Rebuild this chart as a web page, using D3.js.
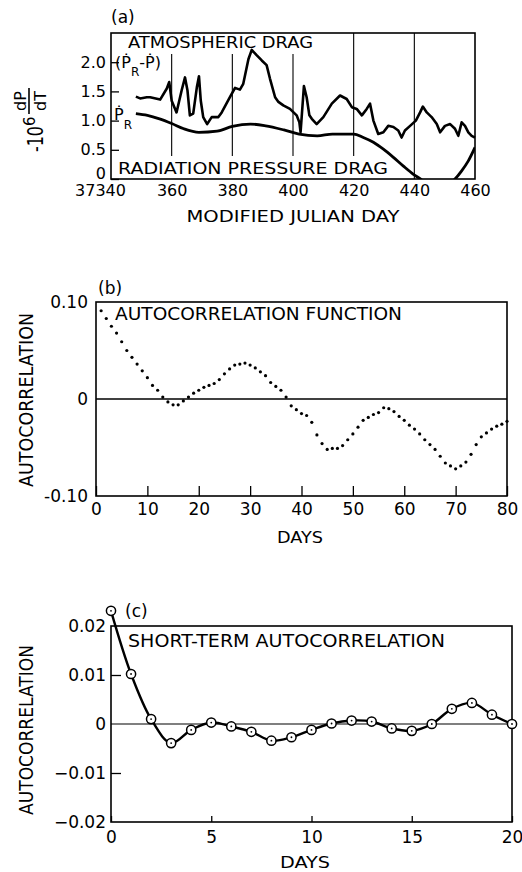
<!DOCTYPE html>
<html>
<head>
<meta charset="utf-8">
<script src="https://cdn.jsdelivr.net/npm/d3@7"></script>
<style>
  body { margin: 0; background: #fff; }
  svg text { font-family: "DejaVu Sans", sans-serif; fill: #000; }
</style>
</head>
<body>
<svg id="fig" width="522" height="872"></svg>
<script>
// ---- (a) drag on the satellite, -10^6 dP/dT against modified julian day
const atmDays = [37348.2, 37349.6, 37351.8, 37352.9, 37356.2, 37358.4, 37359.2, 37360.0, 37361.6, 37363.3,
  37364.4, 37365.2, 37366.0, 37367.1, 37368.3, 37369.0, 37369.6, 37370.4, 37371.7, 37373.2, 37375.4,
  37376.5, 37379.2, 37380.9, 37382.5, 37383.6, 37385.3, 37386.4, 37388.0, 37389.7, 37391.3, 37392.4,
  37394.1, 37395.2, 37396.8, 37399.0, 37401.2, 37402.1, 37402.5, 37403.6, 37404.5, 37405.4, 37406.2,
  37407.8, 37410.0, 37412.8, 37415.5, 37417.7, 37419.4, 37421.0, 37422.7, 37424.3, 37425.4, 37426.5,
  37428.1, 37429.8, 37431.4, 37433.1, 37434.7, 37435.8, 37436.9, 37438.6, 37440.5, 37441.9, 37442.8,
  37444.1, 37445.7, 37447.4, 37448.5, 37450.1, 37451.8, 37453.4, 37454.5, 37455.6, 37456.7, 37457.8,
  37458.9, 37460.0];
const atmVals = [1.41, 1.38, 1.40, 1.40, 1.36, 1.55, 1.66, 1.34, 1.14, 1.52,
  1.74, 1.52, 1.09, 1.12, 1.57, 1.76, 1.34, 1.06, 0.94, 1.06, 1.06,
  1.14, 1.40, 1.56, 1.53, 1.63, 2.05, 2.21, 2.12, 2.03, 1.95, 1.72,
  1.40, 1.32, 1.26, 1.20, 1.09, 0.97, 0.80, 1.59, 1.40, 1.09, 1.03,
  0.94, 1.06, 1.29, 1.43, 1.37, 1.23, 1.20, 1.09, 1.20, 1.29, 1.00,
  0.77, 0.80, 0.91, 0.89, 0.83, 0.71, 0.83, 0.91, 1.00, 1.14, 1.24,
  1.14, 1.06, 0.94, 0.80, 0.91, 0.94, 0.86, 0.74, 0.97, 0.91, 0.80,
  0.74, 0.71];
const radDays = [37348.2, 37352, 37356, 37360, 37364, 37369, 37375, 37380, 37386, 37391, 37397, 37402,
  37408, 37413, 37420, 37423.2, 37426.5, 37429.8, 37433.1, 37436.4, 37439.7, 37442, 37445, 37448,
  37451, 37453.4, 37455.6, 37457.8, 37460];
const radVals = [1.12, 1.09, 1.03, 0.95, 0.86, 0.80, 0.82, 0.90, 0.94, 0.91, 0.84, 0.77,
  0.74, 0.77, 0.77, 0.71, 0.63, 0.51, 0.37, 0.22, 0.08, 0.0, -0.12, -0.17,
  -0.10, 0.0, 0.14, 0.31, 0.54];
const mjdTicks = [37340, 37360, 37380, 37400, 37420, 37440, 37460];
const mjdGrid = [37360, 37380, 37400, 37420, 37440];
const rateTicks = [0, 0.5, 1.0, 1.5, 2.0];

// ---- (b) autocorrelation function, one point per day of lag
const acfDays = [1, 2, 3, 4, 5, 6, 7, 8, 9, 10, 11, 12, 13, 14, 15, 16, 17, 18, 19, 20,
  21, 22, 23, 24, 25, 26, 27, 28, 29, 30, 31, 32, 33, 34, 35, 36, 37, 38, 39, 40,
  41, 42, 43, 44, 45, 46, 47, 48, 49, 50, 51, 52, 53, 54, 55, 56, 57, 58, 59, 60,
  61, 62, 63, 64, 65, 66, 67, 68, 69, 70, 71, 72, 73, 74, 75, 76, 77, 78, 79, 80];
const acfVals = [0.091, 0.083, 0.075, 0.068, 0.059, 0.050, 0.043, 0.036, 0.029, 0.022,
  0.014, 0.009, 0.002, -0.003, -0.006, -0.006, -0.002, 0.002, 0.006, 0.009,
  0.012, 0.014, 0.016, 0.020, 0.026, 0.031, 0.035, 0.036, 0.037, 0.035,
  0.032, 0.028, 0.024, 0.017, 0.013, 0.009, 0.002, -0.007, -0.011, -0.015,
  -0.017, -0.024, -0.037, -0.046, -0.052, -0.051, -0.051, -0.048, -0.042, -0.036,
  -0.029, -0.022, -0.019, -0.016, -0.014, -0.009, -0.010, -0.013, -0.018, -0.022,
  -0.027, -0.031, -0.036, -0.042, -0.047, -0.052, -0.059, -0.066, -0.069, -0.072,
  -0.069, -0.065, -0.057, -0.047, -0.039, -0.035, -0.031, -0.028, -0.026, -0.023];
const acfXTicks = [0, 10, 20, 30, 40, 50, 60, 70, 80];
const acfYTicks = [-0.10, 0, 0.10];

// ---- (c) short-term autocorrelation
const shortDays = [0, 1, 2, 3, 4, 5, 6, 7, 8, 9, 10, 11, 12, 13, 14, 15, 16, 17, 18, 19, 20];
const shortVals = [0.0231, 0.0102, 0.0010, -0.0039, -0.0012, 0.0003, -0.0005, -0.0016, -0.0034, -0.0027,
  -0.0012, 0.0001, 0.0007, 0.0005, -0.0009, -0.0014, 0.0, 0.0031, 0.0043, 0.0019, 0.0];
const shortXTicks = [0, 5, 10, 15, 20];
const shortYTicks = [-0.02, -0.01, 0, 0.01, 0.02];

const svg = d3.select('#fig');
svg.append('rect').attr('width', 522).attr('height', 872).attr('fill', '#fff');

// text helper, optional white box behind it so grid lines break around it
function label(g, str, x, y, size, opts = {}) {
  const t = g.append('text')
    .attr('x', x).attr('y', y)
    .attr('font-size', size)
    .attr('text-anchor', opts.anchor || 'start')
    .text(str);
  if (opts.len) t.attr('textLength', opts.len).attr('lengthAdjust', 'spacingAndGlyphs');
  return t;
}
function backing(g, t, pad) {
  const b = t.node().getBBox();
  g.insert('rect', () => t.node())
    .attr('x', b.x - pad).attr('y', b.y - pad)
    .attr('width', b.width + 2 * pad).attr('height', b.height + 2 * pad)
    .attr('fill', '#fff');
}
function styleAxis(g, size) {
  g.select('.domain').remove();
  g.attr('font-family', null).attr('font-size', size);
  g.selectAll('line').attr('stroke', '#000').attr('stroke-width', 1.3);
  g.selectAll('text').attr('fill', '#000');
}
function frame(g, x, y) {
  g.append('rect')
    .attr('x', x.range()[0]).attr('y', y.range()[1])
    .attr('width', x.range()[1] - x.range()[0])
    .attr('height', y.range()[0] - y.range()[1])
    .attr('fill', 'none').attr('stroke', '#000').attr('stroke-width', 1.6);
}
function rotLabel(g, str, cx, cy, size, len) {
  g.append('text')
    .attr('transform', `translate(${cx},${cy}) rotate(-90)`)
    .attr('text-anchor', 'middle')
    .attr('font-size', size)
    .attr('textLength', len).attr('lengthAdjust', 'spacingAndGlyphs')
    .text(str);
}

// ================= (a) =================
(function panelA() {
  const g = svg.append('g');
  const x = d3.scaleLinear().domain([37340, 37460]).range([111, 475]);
  const y = d3.scaleLinear().domain([0, 2.5]).range([179, 33]);

  g.append('defs').append('clipPath').attr('id', 'clipA')
    .append('rect').attr('x', 111).attr('y', 33).attr('width', 364).attr('height', 146);

  g.selectAll('line.grid').data(mjdGrid).join('line')
    .attr('class', 'grid')
    .attr('x1', d => x(d)).attr('x2', d => x(d))
    .attr('y1', y.range()[1]).attr('y2', y.range()[0])
    .attr('stroke', '#000').attr('stroke-width', 1.1);

  const t1 = label(g, 'ATMOSPHERIC DRAG', 128, 48, 16, { len: 185 });
  backing(g, t1, 2);
  const t2 = label(g, 'RADIATION PRESSURE DRAG', 118, 174, 16, { len: 270 });
  backing(g, t2, 3);

  const pr = g.append('text').attr('x', 115).attr('y', 68).attr('font-size', 16);
  pr.append('tspan').text('(Ṗ');
  pr.append('tspan').attr('dy', 8).attr('font-size', 12).text('R');
  pr.append('tspan').attr('dy', -8).text('-Ṗ)');

  const p2 = g.append('text').attr('x', 114).attr('y', 120).attr('font-size', 16);
  p2.append('tspan').text('Ṗ');
  p2.append('tspan').attr('dy', 9).attr('font-size', 12).text('R');

  const ya = g.append('g').attr('transform', 'translate(111,0)')
    .call(d3.axisLeft(y).tickValues(rateTicks).tickSizeInner(-8).tickSizeOuter(0).tickPadding(5)
      .tickFormat(d => d === 0 ? '0' : d3.format('.1f')(d)))
    .call(a => styleAxis(a, 16));
  ya.selectAll('.tick').filter(d => d === 0).select('text').attr('dy', '-0.05em');

  const xa = g.append('g').attr('transform', 'translate(0,179)')
    .call(d3.axisBottom(x).tickValues(mjdTicks).tickSize(0).tickPadding(6)
      .tickFormat(d => d === 37340 ? '37340' : String(d).slice(2)))
    .call(a => styleAxis(a, 16));
  xa.selectAll('text').filter(d => d === 37340).attr('dx', -11);

  label(g, 'MODIFIED JULIAN DAY', 293, 222, 16, { anchor: 'middle', len: 213 });
  label(g, '(a)', 111, 23, 17);

  const line = d3.line().x(d => x(d[0])).y(d => y(d[1]));
  g.append('path')
    .datum(d3.zip(atmDays, atmVals))
    .attr('d', line)
    .attr('fill', 'none').attr('stroke', '#000').attr('stroke-width', 2.6)
    .attr('stroke-linejoin', 'round');
  g.append('path')
    .datum(d3.zip(radDays, radVals))
    .attr('d', d3.line().x(d => x(d[0])).y(d => y(d[1])).curve(d3.curveMonotoneX))
    .attr('clip-path', 'url(#clipA)')
    .attr('fill', 'none').attr('stroke', '#000').attr('stroke-width', 2.8);

  frame(g, x, y);

  // -10^6 dP/dT
  const yl = g.append('g').attr('transform', 'translate(43,152) rotate(-90)');
  yl.append('text').attr('x', 0).attr('y', 0).attr('font-size', 22)
    .attr('textLength', 26).attr('lengthAdjust', 'spacingAndGlyphs').text('-10');
  yl.append('text').attr('x', 26).attr('y', -8).attr('font-size', 15).text('6');
  yl.append('text').attr('x', 51).attr('y', -17).attr('font-size', 16).attr('text-anchor', 'middle').text('dP');
  yl.append('line').attr('x1', 38).attr('x2', 64).attr('y1', -14).attr('y2', -14)
    .attr('stroke', '#000').attr('stroke-width', 1.6);
  yl.append('text').attr('x', 51).attr('y', 3).attr('font-size', 16).attr('text-anchor', 'middle').text('dT');
})();

// ================= (b) =================
(function panelB() {
  const g = svg.append('g');
  const x = d3.scaleLinear().domain([0, 80]).range([96, 507]);
  const y = d3.scaleLinear().domain([-0.10, 0.10]).range([496, 302]);

  g.append('line')
    .attr('x1', x(0)).attr('x2', x(80)).attr('y1', y(0)).attr('y2', y(0))
    .attr('stroke', '#000').attr('stroke-width', 1.3);

  g.append('g').attr('transform', 'translate(0,496)')
    .call(d3.axisBottom(x).tickValues(acfXTicks).tickSizeInner(-10).tickSizeOuter(0).tickPadding(7)
      .tickFormat(d3.format('d')))
    .call(a => styleAxis(a, 17));

  g.append('g').attr('transform', 'translate(96,0)')
    .call(d3.axisLeft(y).tickValues(acfYTicks).tickSize(0).tickPadding(8)
      .tickFormat(d => d === 0 ? '0' : (d < 0 ? '-' : '') + d3.format('.2f')(Math.abs(d))))
    .call(a => styleAxis(a, 17));

  frame(g, x, y);

  g.selectAll('circle.acf').data(d3.zip(acfDays, acfVals)).join('circle')
    .attr('class', 'acf')
    .attr('cx', d => x(d[0])).attr('cy', d => y(d[1]))
    .attr('r', 1.6).attr('fill', '#000');

  label(g, 'AUTOCORRELATION FUNCTION', 115, 320, 17, { len: 287 });
  label(g, '(b)', 98, 294, 17);
  label(g, 'DAYS', 300, 543, 16, { anchor: 'middle', len: 46 });
  rotLabel(g, 'AUTOCORRELATION', 33, 400, 20, 174);
})();

// ================= (c) =================
(function panelC() {
  const g = svg.append('g');
  const x = d3.scaleLinear().domain([0, 20]).range([111, 512]);
  const y = d3.scaleLinear().domain([-0.02, 0.02]).range([822, 626]);

  g.append('line')
    .attr('x1', x(0)).attr('x2', x(20)).attr('y1', y(0)).attr('y2', y(0))
    .attr('stroke', '#000').attr('stroke-width', 1.2);

  g.append('g').attr('transform', 'translate(0,822)')
    .call(d3.axisBottom(x).tickValues(shortXTicks).tickSizeInner(-6).tickSizeOuter(0).tickPadding(9)
      .tickFormat(d3.format('d')))
    .call(a => styleAxis(a, 17));

  const ya = g.append('g').attr('transform', 'translate(111,0)')
    .call(d3.axisLeft(y).tickValues(shortYTicks).tickSizeInner(-10).tickSizeOuter(0).tickPadding(5)
      .tickFormat(d => d === 0 ? '0' : d3.format('.2f')(d)))
    .call(a => styleAxis(a, 17));
  ya.selectAll('.tick line').filter(d => Math.abs(d) !== 0.01).remove();

  frame(g, x, y);

  const pts = d3.zip(shortDays, shortVals);
  g.append('path')
    .datum(pts)
    .attr('d', d3.line().x(d => x(d[0])).y(d => y(d[1])).curve(d3.curveCatmullRom))
    .attr('fill', 'none').attr('stroke', '#000').attr('stroke-width', 2.4);

  const m = g.selectAll('g.pt').data(pts).join('g')
    .attr('class', 'pt')
    .attr('transform', d => `translate(${x(d[0])},${y(d[1])})`);
  m.append('circle').attr('r', 4.6).attr('fill', '#fff').attr('stroke', '#000').attr('stroke-width', 1.5);
  m.append('circle').attr('r', 0.9).attr('fill', '#000');

  label(g, 'SHORT-TERM AUTOCORRELATION', 128, 647, 17, { len: 317 });
  label(g, '(c)', 125, 617, 17);
  label(g, 'DAYS', 305, 868, 16, { anchor: 'middle', len: 50 });
  rotLabel(g, 'AUTOCORRELATION', 33, 730, 20, 170);
})();
</script>
</body>
</html>
